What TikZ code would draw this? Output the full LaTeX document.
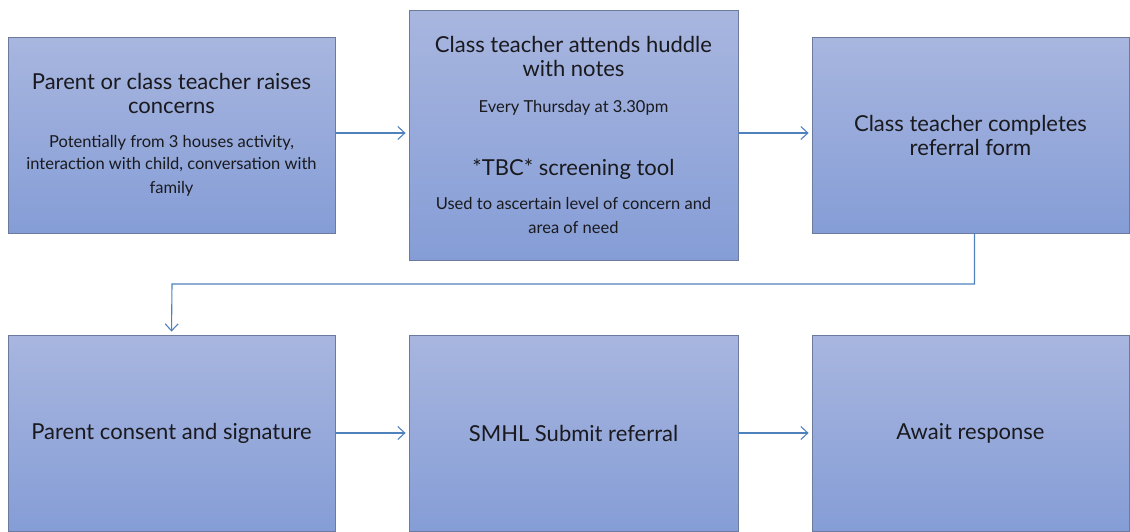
\documentclass[tikz,border=0pt]{standalone}
\usepackage{fontspec}
\setmainfont{Lato}
\usetikzlibrary{arrows.meta}

\definecolor{boxtop}{RGB}{168,182,223}
\definecolor{boxbot}{RGB}{133,157,214}
\definecolor{boxline}{RGB}{108,122,158}
\definecolor{flowblue}{RGB}{79,129,189}
\definecolor{ink}{RGB}{25,25,30}

\newcommand\headfont{\fontsize{22}{24}\selectfont}
\newcommand\notefont{\fontsize{16.5}{22}\selectfont}

\tikzset{
  stage/.style={draw=boxline, line width=0.8pt, top color=boxtop, bottom color=boxbot,
    minimum width=327pt, minimum height=196pt, inner sep=0pt, text=ink,
    align=flush center, text width=318pt, font=\headfont},
  flow/.style={draw=flowblue, line width=1.1pt, -{Straight Barb[length=7pt,width=13pt]}, shorten >=3pt},
}

\begin{document}
\begin{tikzpicture}[x=1pt, y=-1pt]
    \useasboundingbox (0,0) rectangle (1130,531);

    % top row
    \node[stage] (raise) at (171.5,135) {Parent or class teacher raises\\ concerns\\[12pt]
      \notefont Potentially from 3 houses activity,\\ interaction with child, conversation with\\ family};
    \node[stage, minimum width=329pt, minimum height=250pt] (huddle) at (573.5,135) {Class teacher attends huddle\\ with notes\\[14pt]
      \notefont Every Thursday at 3.30pm\\[39pt]
      \headfont *TBC* screening tool\\[12pt]
      \notefont Used to ascertain level of concern and\\ area of need};
    \node[stage, minimum width=317pt, text width=305pt] (form) at (970.5,135) {Class teacher completes\\ referral form};

    % bottom row
    \node[stage] (consent) at (171.5,433) {Parent consent and signature};
    \node[stage, minimum width=329pt] (submit) at (573.5,433) {SMHL Submit referral};
    \node[stage, minimum width=317pt, text width=305pt] (await) at (970.5,433) {Await response};

    % connectors
    \coordinate (turn) at (172,284);
    \draw[flow] ([yshift=2pt]raise.east) -- ([yshift=2pt]huddle.west);
    \draw[flow] ([yshift=2pt]huddle.east) -- ([yshift=2pt]form.west);
    \draw[flow] ([xshift=4pt]form.south) |- (turn) -- (consent.north);
    \draw[flow] (consent) -- (submit);
    \draw[flow] (submit) -- (await);
\end{tikzpicture}
\end{document}
